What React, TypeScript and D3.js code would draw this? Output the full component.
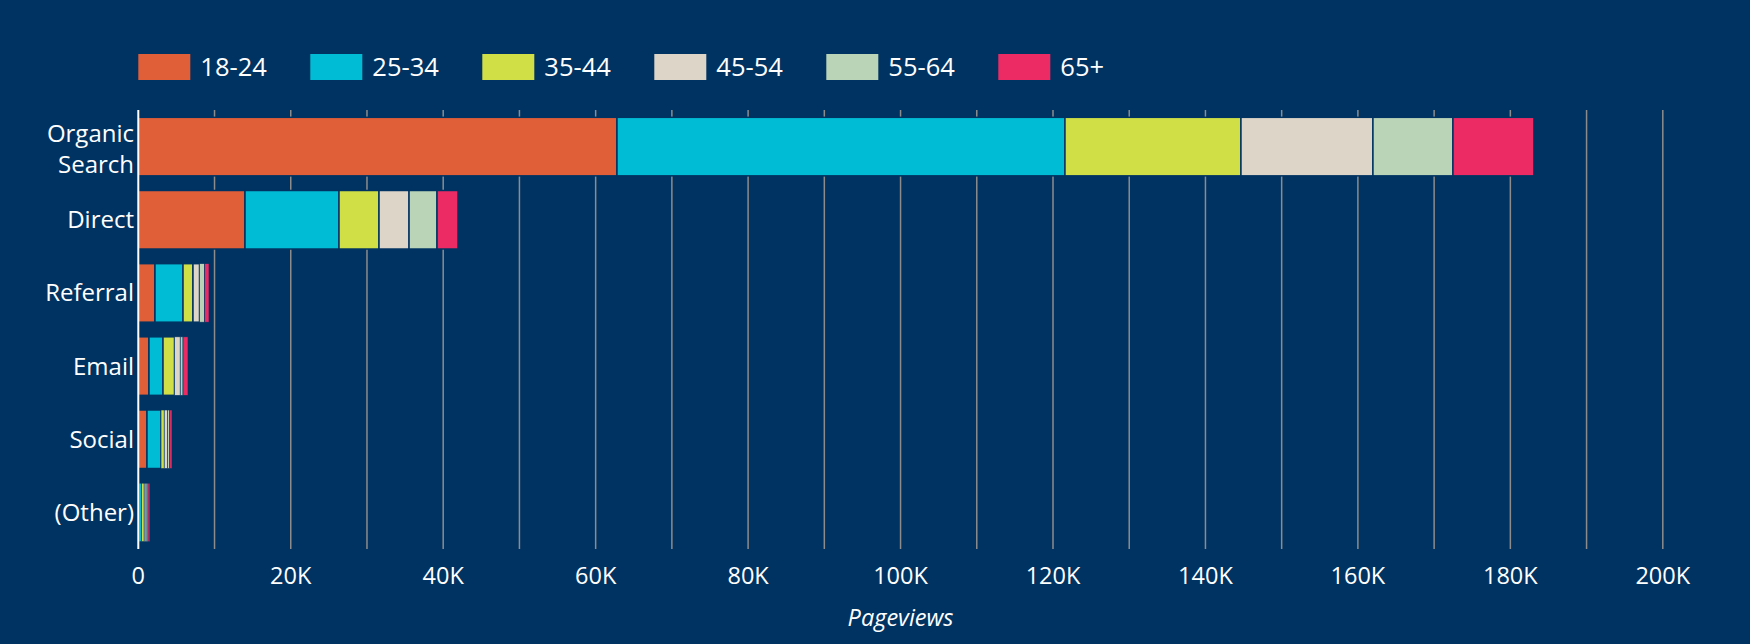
import React from 'react';
import * as d3 from 'd3';

const categories = ['Organic Search', 'Direct', 'Referral', 'Email', 'Social', '(Other)'];
const ageGroups = ['18-24', '25-34', '35-44', '45-54', '55-64', '65+'];
const v18_24 = [62800, 14000, 2190, 1400, 1140, 90];
const v25_34 = [58770, 12330, 3675, 1840, 1840, 340];
const v35_44 = [23090, 5250, 1310, 1510, 420, 340];
const v45_54 = [17315, 3940, 855, 750, 430, 250];
const v55_64 = [10495, 3670, 655, 365, 300, 250];
const v65plus = [10627, 2755, 590, 655, 290, 250];
const seriesValues = [v18_24, v25_34, v35_44, v45_54, v55_64, v65plus];
const seriesColors = ['#e05e38', '#00bcd5', '#cfdf45', '#ddd5c8', '#b9d4b7', '#ec2b65'];
const xTickValues = [0, 20000, 40000, 60000, 80000, 100000, 120000, 140000, 160000, 180000, 200000];
const gridValues = d3.range(10000, 200001, 10000);
const axisTitle = 'Pageviews';

const W = 1750;
const H = 644;
const BG = '#003362';
const FONT = '"Open Sans", "Noto Sans", sans-serif';

export default function App() {
  const rows = categories.map((c, i) => {
    const r: any = { category: c };
    ageGroups.forEach((g, j) => (r[g] = seriesValues[j][i]));
    return r;
  });
  const stacked = d3.stack().keys(ageGroups)(rows);

  const x = d3.scaleLinear().domain([0, 200000]).range([138.3, 1662.8]);
  const y = d3.scaleBand().domain(categories).range([110, 549]).paddingInner(0.2).paddingOuter(0.1);
  const fmt = (v: number) => (v === 0 ? '0' : `${v / 1000}K`);

  const legendX = d3.scaleBand().domain(ageGroups).range([138.3, 138.3 + 172 * 6]);

  return (
    <svg width={W} height={H} style={{ position: 'absolute', left: 0, top: 0, background: BG }} fontFamily={FONT}>
      <rect x={0} y={0} width={W} height={H} fill={BG} />
      {/* legend */}
      {ageGroups.map((g, j) => (
        <g key={g} transform={`translate(${legendX(g)},54)`}>
          <rect width={52} height={26} fill={seriesColors[j]} />
          <text x={62} y={22} fontSize={25.5} fill="#ffffff">{g}</text>
        </g>
      ))}
      {/* grid */}
      {gridValues.map((v) => (
        <line key={v} x1={x(v)} x2={x(v)} y1={110} y2={549} stroke="#8c8c8c" strokeWidth={1.5} />
      ))}
      {/* bars */}
      {stacked.map((s, j) => (
        <g key={s.key} fill={seriesColors[j]}>
          {s.map((d: any) => {
            const w = Math.max(0, x(d[1]) - x(d[0]));
            return (
              <rect
                key={d.data.category}
                x={x(d[0])}
                y={y(d.data.category)}
                width={w}
                height={y.bandwidth()}
                stroke={BG}
                strokeWidth={w > 6 ? 1.5 : 0.6}
              />
            );
          })}
        </g>
      ))}
      {/* y axis line */}
      <line x1={x(0)} x2={x(0)} y1={110} y2={549} stroke="#ffffff" strokeWidth={2} />
      {/* category labels */}
      {categories.map((c) => {
        const cy = (y(c) as number) + y.bandwidth() / 2;
        const words = c === 'Organic Search' ? ['Organic', 'Search'] : [c];
        return (
          <text key={c} x={134} textAnchor="end" fontSize={24} fill="#ffffff">
            {words.map((w, k) => (
              <tspan key={k} x={134} y={cy + 8.5 + (k - (words.length - 1) / 2) * 31 + (words.length > 1 ? 2 : 0)}>
                {w}
              </tspan>
            ))}
          </text>
        );
      })}
      {/* x tick labels */}
      {xTickValues.map((v) => (
        <text key={v} x={x(v)} y={584} textAnchor="middle" fontSize={23.5} fill="#ffffff">
          {fmt(v)}
        </text>
      ))}
      <text x={(x(0) + x(200000)) / 2} y={626} textAnchor="middle" fontSize={23.5} fontStyle="italic" fill="#ffffff">
        {axisTitle}
      </text>
    </svg>
  );
}
